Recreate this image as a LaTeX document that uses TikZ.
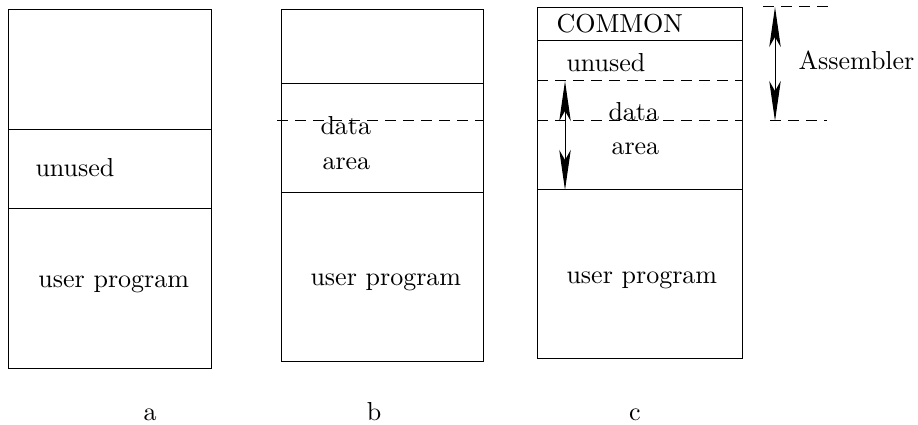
\documentclass[tikz,border=0pt]{standalone}
\usetikzlibrary{arrows.meta}
\begin{document}
\begin{tikzpicture}[x=0.4pt,y=-0.4pt,
  box/.style={draw,line width=0.4pt},
  sep/.style={line width=0.4pt},
  dsep/.style={line width=0.4pt,dash pattern=on 4.4pt off 2.8pt},
  txt/.style={anchor=base west,inner sep=0pt,font=\fontsize{10.4}{12}\selectfont},
  lab/.style={anchor=base,inner sep=0pt,font=\fontsize{10.4}{12}\selectfont},
  dimarrow/.style={line width=0.4pt,{Stealth[length=16pt,width=4.6pt,inset=4pt]}-{Stealth[length=16pt,width=4.6pt,inset=4pt]}}]
\useasboundingbox (0,0) rectangle (918,425);
% column a
\draw[box] (8,10) rectangle (211,368);
\draw[sep] (8,130) -- (211,130);
\draw[sep] (8,209) -- (211,209);
\node[txt] (aunused) at (35,177) {unused};
\node[txt] (aprog) at (38,288) {user program};
\node[lab] (la) at (150,420) {a};
% column b
\draw[box] (281,10) rectangle (483,361);
\draw[sep] (281,84) -- (483,84);
\draw[sep] (281,193) -- (483,193);
\draw[dsep] (277,121) -- (483,121);
\node[txt] (bdata) at (320,135) {data};
\node[txt] (barea) at (322,170) {area};
\node[txt] (bprog) at (310,286) {user program};
\node[lab] (lb) at (374,420) {b};
% column c
\draw[box] (537,8) rectangle (742,358);
\draw[sep] (537,41) -- (742,41);
\draw[sep] (537,190) -- (742,190);
\draw[dsep] (537,81) -- (742,81);
\draw[dsep] (537,121) -- (742,121);
\node[txt] (common) at (556,33) {COMMON};
\node[txt] (cunused) at (566,72) {unused};
\node[txt] (cdata) at (608,121) {data};
\node[txt] (carea) at (611,155) {area};
\node[txt] (cprog) at (566,283) {user program};
\node[lab] (lc) at (635,420) {c};
\coordinate (dtop) at (565,81);
\coordinate (dbot) at (565,190);
\draw[dimarrow] (dtop) -- (dbot);
% assembler
\draw[dsep] (763,7) -- (835,7);
\draw[dsep] (770,121) -- (827,121);
\coordinate (atop) at (775,7);
\coordinate (abot) at (775,121);
\draw[dimarrow] (atop) -- (abot);
\node[txt] (asm) at (798,70) {Assembler};
\end{tikzpicture}
\end{document}
